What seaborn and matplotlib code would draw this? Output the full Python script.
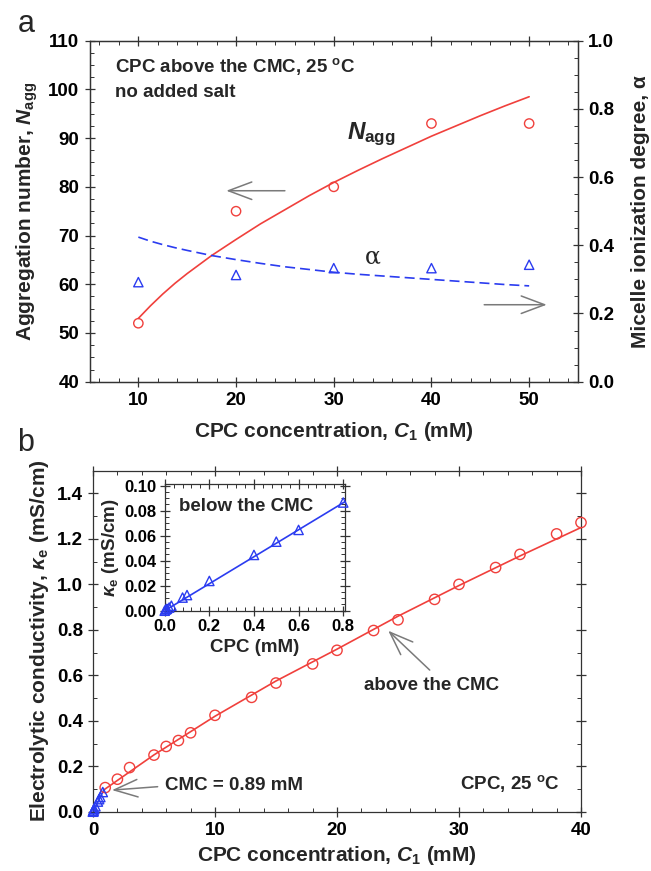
import numpy as np
import pandas as pd
import matplotlib
matplotlib.use("Agg")
import matplotlib.pyplot as plt
from matplotlib.ticker import MultipleLocator
import seaborn as sns

# ---------------- Panel a data ----------------
conc_a = [10, 20, 30, 40, 50]
nagg = [52, 75, 80, 93, 93]
alpha = [0.292, 0.313, 0.333, 0.333, 0.343]
fit_c = [10, 11.25, 12.5, 13.75, 15, 17.5, 20, 22.5, 25, 27.5, 30, 32.5, 35, 37.5, 40, 42.5, 45, 47.5, 50]
fit_nagg = [53.0, 55.6, 58.0, 60.2, 62.2, 65.9, 69.2, 72.4, 75.3, 78.2, 80.9, 83.4, 85.8, 88.1,
            90.4, 92.5, 94.6, 96.6, 98.5]
fit_alpha = [0.424, 0.412, 0.402, 0.393, 0.385, 0.370, 0.358, 0.347, 0.337, 0.329, 0.321, 0.315,
             0.310, 0.305, 0.300, 0.295, 0.290, 0.285, 0.281]

# ---------------- Panel b data ----------------
conc_above = [1, 2, 3, 5, 6, 7, 8, 10, 13, 15, 18, 20, 23, 25, 28, 30, 33, 35, 38, 40]
kappa_above = [0.106, 0.143, 0.194, 0.249, 0.287, 0.313, 0.347, 0.424, 0.503, 0.566,
               0.650, 0.710, 0.797, 0.844, 0.934, 1.000, 1.074, 1.132, 1.222, 1.272]
fit_above_c = [0.89, 5, 10, 15, 20, 25, 30, 35, 40]
fit_above_k = [0.096, 0.250, 0.420, 0.575, 0.715, 0.860, 0.995, 1.125, 1.250]
conc_below = [0, 0.005, 0.01, 0.02, 0.03, 0.08, 0.1, 0.2, 0.4, 0.5, 0.6, 0.8]
kappa_below = [0, 0.001, 0.0015, 0.0025, 0.004, 0.0105, 0.0125, 0.0238, 0.0446,
               0.0552, 0.0646, 0.0865]
fit_below_c = [0, 0.89]
fit_below_k = [0, 0.096]

RED = "#f0403c"
BLUE = "#2b3cf0"
GRAY = "#7a7a7a"

sns.set_theme(style="ticks")
plt.rcParams.update({
    "font.family": ["Liberation Sans", "DejaVu Sans"],
    "font.weight": "bold",
    "axes.labelweight": "bold",
    "mathtext.fontset": "custom",
    "mathtext.rm": "Liberation Sans:bold",
    "mathtext.it": "Liberation Sans:italic:bold",
    "mathtext.bf": "Liberation Sans:bold",
    "axes.edgecolor": "#333333",
    "axes.linewidth": 0.9,
    "xtick.color": "#333333",
    "ytick.color": "#333333",
    "xtick.labelcolor": "black",
    "ytick.labelcolor": "black",
})

W, H = 651, 871
fig = plt.figure(figsize=(W / 100, H / 100), dpi=100)

LABEL_FS = 15
TEXT_FS = 13.5


def rect(l, t, r, b):
    return [l / W, 1 - b / H, (r - l) / W, (b - t) / H]


def style_ticks(ax, top=True, right=True, size=13.5, pad=4):
    ax.tick_params(which="major", direction="inout", length=6.5, width=0.9,
                   top=top, right=right, labelsize=size, pad=pad)
    ax.tick_params(which="minor", direction="in", length=3, width=0.7,
                   top=top, right=right)
    for lab in ax.get_xticklabels() + ax.get_yticklabels():
        lab.set_fontweight("bold")


# ================= Panel a =================
axa = fig.add_axes(rect(89.5, 40.7, 578, 381.7))
dfa = pd.DataFrame({"C": conc_a, "N": nagg, "alpha": alpha})
dff = pd.DataFrame({"C": fit_c, "N": fit_nagg, "alpha": fit_alpha})

sns.lineplot(data=dff, x="C", y="N", ax=axa, color=RED, lw=1.2)
sns.scatterplot(data=dfa, x="C", y="N", ax=axa, marker="o", s=45,
                facecolor="none", edgecolor=RED, linewidth=1.0)
axa.set_xlim(5, 55)
axa.set_ylim(40, 110)
axa.xaxis.set_major_locator(MultipleLocator(10))
axa.xaxis.set_minor_locator(MultipleLocator(2))
axa.yaxis.set_major_locator(MultipleLocator(10))
axa.yaxis.set_minor_locator(MultipleLocator(2.5))
style_ticks(axa, top=True, right=False)
axa.set_xlabel(r"CPC concentration, $C_{\mathrm{1}}$ (mM)", fontsize=LABEL_FS, labelpad=8)
axa.set_ylabel(r"Aggregation number, $N_{\mathrm{agg}}$", fontsize=LABEL_FS, labelpad=6)

axb2 = axa.twinx()
sns.lineplot(data=dff, x="C", y="alpha", ax=axb2, color=BLUE, lw=1.2)
axb2.lines[-1].set_dashes((6, 3))
sns.scatterplot(data=dfa, x="C", y="alpha", ax=axb2, marker="^", s=45,
                facecolor="none", edgecolor=BLUE, linewidth=1.0)
axb2.set_ylim(0, 1.0)
axb2.yaxis.set_major_locator(MultipleLocator(0.2))
axb2.yaxis.set_minor_locator(MultipleLocator(0.05))
axb2.yaxis.set_major_formatter(matplotlib.ticker.FormatStrFormatter("%.1f"))
style_ticks(axb2, top=False, right=True)
axb2.tick_params(which="both", left=False)
axb2.set_ylabel("Micelle ionization degree, α", fontsize=LABEL_FS, labelpad=12)

axa.text(7.6, 104.8, r"CPC above the CMC, 25 $^{\mathrm{o}}$C", fontsize=TEXT_FS,
         fontweight="bold", va="center", ha="left")
axa.text(7.6, 99.4, "no added salt", fontsize=TEXT_FS, fontweight="bold",
         va="center", ha="left")
axa.text(31.4, 89.8, r"$N_{\mathrm{agg}}$", fontsize=17.5, va="baseline", ha="left")
axa.text(34.0, 65.5, "α", fontsize=17, family=["DejaVu Serif"], fontweight="normal",
         va="center", ha="center")
arrow_kw = dict(arrowstyle="->,head_length=1.2,head_width=0.45", color=GRAY,
                lw=1.1, mutation_scale=14, shrinkA=0, shrinkB=0)
axa.annotate("", xy=(19.0, 79.2), xytext=(25.0, 79.2), arrowprops=arrow_kw)
axa.annotate("", xy=(51.8, 55.8), xytext=(45.4, 55.8), arrowprops=arrow_kw)

fig.text(26 / W, 1 - 24 / H, "a", fontsize=22, fontweight="normal",
         ha="center", va="center")

# ================= Panel b =================
axb = fig.add_axes(rect(93, 470.7, 581, 811.7))
dab = pd.DataFrame({"C": conc_above, "k": kappa_above})
dfab = pd.DataFrame({"C": fit_above_c, "k": fit_above_k})
dbe = pd.DataFrame({"C": conc_below, "k": kappa_below})
dfbe = pd.DataFrame({"C": fit_below_c, "k": fit_below_k})

sns.lineplot(data=dfab, x="C", y="k", ax=axb, color=RED, lw=1.2)
sns.lineplot(data=dfbe, x="C", y="k", ax=axb, color=BLUE, lw=1.2)
sns.scatterplot(data=dab, x="C", y="k", ax=axb, marker="o", s=55,
                facecolor="none", edgecolor=RED, linewidth=1.0, clip_on=False, zorder=5)
sns.scatterplot(data=dbe, x="C", y="k", ax=axb, marker="^", s=45,
                facecolor="none", edgecolor=BLUE, linewidth=1.0, clip_on=False, zorder=5)
axb.set_xlim(0, 40)
axb.set_ylim(0, 1.5)
axb.xaxis.set_major_locator(MultipleLocator(10))
axb.xaxis.set_minor_locator(MultipleLocator(2))
axb.yaxis.set_major_locator(MultipleLocator(0.2))
axb.yaxis.set_minor_locator(MultipleLocator(0.1))
axb.yaxis.set_major_formatter(matplotlib.ticker.FormatStrFormatter("%.1f"))
style_ticks(axb, top=True, right=True)
axb.set_xlabel(r"CPC concentration, $C_{\mathrm{1}}$ (mM)", fontsize=LABEL_FS, labelpad=4)
axb.set_ylabel(r"Electrolytic conductivity, $\kappa_{\mathrm{e}}$ (mS/cm)",
               fontsize=LABEL_FS, labelpad=4)

axb.text(5.9, 0.117, "CMC = 0.89 mM", fontsize=TEXT_FS, fontweight="bold",
         va="center", ha="left")
axb.text(38.25, 0.125, r"CPC, 25 $^{\mathrm{o}}$C", fontsize=TEXT_FS, fontweight="bold",
         va="center", ha="right")
axb.text(22.2, 0.557, "above the CMC", fontsize=TEXT_FS, fontweight="bold",
         va="center", ha="left")
axb.annotate("", xy=(1.56, 0.095), xytext=(5.3, 0.110), arrowprops=arrow_kw)
axb.annotate("", xy=(24.2, 0.796), xytext=(27.6, 0.623), arrowprops=arrow_kw)

fig.text(26 / W, 1 - 443 / H, "b", fontsize=22, fontweight="normal",
         ha="center", va="center")

# ---------------- Inset ----------------
axi = fig.add_axes(rect(164.7, 484, 345, 610.7))
sns.lineplot(data=dfbe, x="C", y="k", ax=axi, color=BLUE, lw=1.2)
sns.scatterplot(data=dbe, x="C", y="k", ax=axi, marker="^", s=45,
                facecolor="none", edgecolor=BLUE, linewidth=1.0, clip_on=False, zorder=5)
axi.set_xlim(0, 0.808)
axi.set_ylim(0, 0.1013)
axi.xaxis.set_major_locator(MultipleLocator(0.2))
axi.xaxis.set_minor_locator(MultipleLocator(0.04))
axi.yaxis.set_major_locator(MultipleLocator(0.02))
axi.yaxis.set_minor_locator(MultipleLocator(0.005))
axi.xaxis.set_major_formatter(matplotlib.ticker.FormatStrFormatter("%.1f"))
axi.yaxis.set_major_formatter(matplotlib.ticker.FormatStrFormatter("%.2f"))
style_ticks(axi, top=True, right=True, size=12, pad=3)
axi.set_xlabel("CPC (mM)", fontsize=13.5, labelpad=3)
axi.set_ylabel(r"$\kappa_{\mathrm{e}}$ (mS/cm)", fontsize=13.5, labelpad=2)
axi.text(0.064, 0.083, "below the CMC", fontsize=TEXT_FS, fontweight="bold",
         va="center", ha="left")

fig.savefig("out.png", dpi=100)
